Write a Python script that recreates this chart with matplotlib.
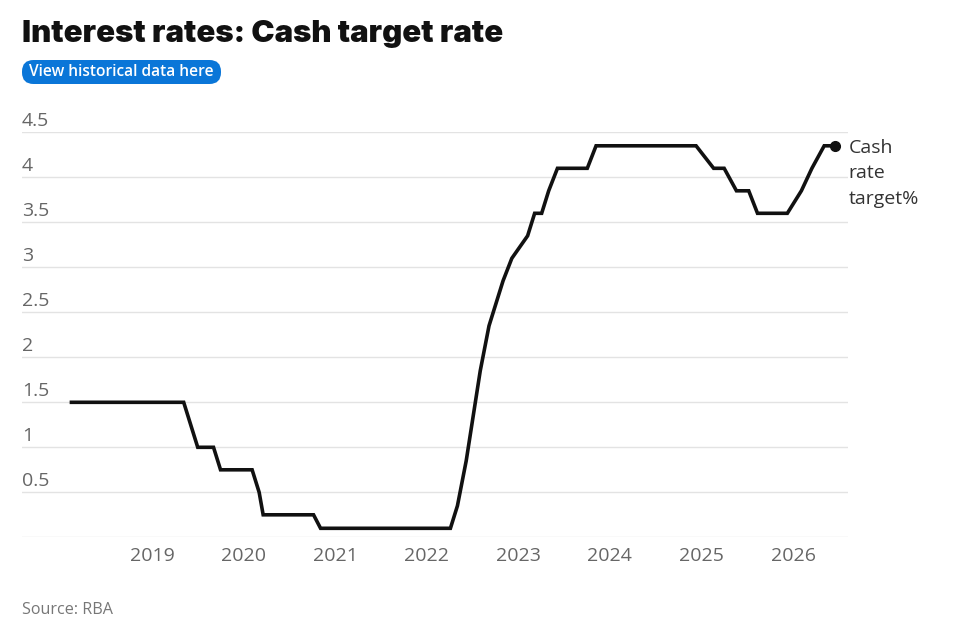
import matplotlib
matplotlib.use("Agg")
import matplotlib.pyplot as plt
import matplotlib.dates as mdates
from matplotlib.patches import FancyBboxPatch
from matplotlib.transforms import blended_transform_factory, ScaledTranslation
import pandas as pd

# ---------------- data ----------------
meeting_dates = [
    # 2018
    "2018-02-06", "2018-03-06", "2018-04-03", "2018-05-01", "2018-06-05", "2018-07-03",
    "2018-08-07", "2018-09-04", "2018-10-02", "2018-11-06", "2018-12-04",
    # 2019
    "2019-02-05", "2019-03-05", "2019-04-02", "2019-05-07", "2019-06-04", "2019-07-02",
    "2019-08-06", "2019-09-03", "2019-10-01", "2019-11-05", "2019-12-03",
    # 2020
    "2020-02-04", "2020-03-03", "2020-03-19", "2020-04-07", "2020-05-05", "2020-06-02",
    "2020-07-07", "2020-08-04", "2020-09-01", "2020-10-06", "2020-11-03", "2020-12-01",
    # 2021
    "2021-02-02", "2021-03-02", "2021-04-06", "2021-05-04", "2021-06-01", "2021-07-06",
    "2021-08-03", "2021-09-07", "2021-10-05", "2021-11-02", "2021-12-07",
    # 2022
    "2022-02-01", "2022-03-01", "2022-04-05", "2022-05-03", "2022-06-07", "2022-07-05",
    "2022-08-02", "2022-09-06", "2022-10-04", "2022-11-01", "2022-12-06",
    # 2023
    "2023-02-07", "2023-03-07", "2023-04-04", "2023-05-02", "2023-06-06", "2023-07-04",
    "2023-08-01", "2023-09-05", "2023-10-03", "2023-11-07", "2023-12-05",
    # 2024
    "2024-02-06", "2024-03-19", "2024-05-07", "2024-06-18", "2024-08-06", "2024-09-24",
    "2024-11-05", "2024-12-10",
    # 2025
    "2025-02-18", "2025-04-01", "2025-05-20", "2025-07-08", "2025-08-12", "2025-09-30",
    "2025-11-04", "2025-12-09",
    # 2026
    "2026-02-03", "2026-03-17", "2026-05-05", "2026-06-16",
]
cash_rate = [
    # 2018
    1.5, 1.5, 1.5, 1.5, 1.5, 1.5, 1.5, 1.5, 1.5, 1.5, 1.5,
    # 2019
    1.5, 1.5, 1.5, 1.5, 1.25, 1.0, 1.0, 1.0, 0.75, 0.75, 0.75,
    # 2020
    0.75, 0.5, 0.25, 0.25, 0.25, 0.25, 0.25, 0.25, 0.25, 0.25, 0.1, 0.1,
    # 2021
    0.1, 0.1, 0.1, 0.1, 0.1, 0.1, 0.1, 0.1, 0.1, 0.1, 0.1,
    # 2022
    0.1, 0.1, 0.1, 0.35, 0.85, 1.35, 1.85, 2.35, 2.6, 2.85, 3.1,
    # 2023
    3.35, 3.6, 3.6, 3.85, 4.1, 4.1, 4.1, 4.1, 4.1, 4.35, 4.35,
    # 2024
    4.35, 4.35, 4.35, 4.35, 4.35, 4.35, 4.35, 4.35,
    # 2025
    4.1, 4.1, 3.85, 3.85, 3.6, 3.6, 3.6, 3.6,
    # 2026
    3.85, 4.1, 4.35, 4.35,
]
y_ticks = [0.5, 1, 1.5, 2, 2.5, 3, 3.5, 4, 4.5]
y_tick_labels = ["0.5", "1", "1.5", "2", "2.5", "3", "3.5", "4", "4.5"]
x_tick_years = [2019, 2020, 2021, 2022, 2023, 2024, 2025, 2026]
series_label_lines = ["Cash", "rate", "target%"]

title = "Interest rates: Cash target rate"
button_text = "View historical data here"
source_text = "Source: RBA"

# ---------------- figure ----------------
W, H, DPI = 957, 642, 100
fig = plt.figure(figsize=(W / DPI, H / DPI), dpi=DPI)
fig.patch.set_facecolor("white")

def fx(px):
    return px / W

def fy(py):
    return 1 - py / H

ax_left, ax_right = 22, 848
ax_top, ax_bottom = 132.3, 537.3
ax = fig.add_axes([fx(ax_left), fy(ax_bottom), (ax_right - ax_left) / W,
                   (ax_bottom - ax_top) / H])
ax.set_facecolor("white")

dates = pd.to_datetime(meeting_dates)
ax.set_xlim(pd.Timestamp("2017-07-31"), pd.Timestamp("2026-08-08"))
ax.set_ylim(0, 4.5)

for s in ax.spines.values():
    s.set_visible(False)
ax.set_yticks([])
ax.tick_params(axis="x", length=0, pad=7, labelsize=14, labelcolor="#666666")
ax.set_xticks([pd.Timestamp(f"{y}-01-01") for y in x_tick_years])
ax.set_xticklabels([str(y) for y in x_tick_years], fontfamily="Open Sans")

# gridlines (including baseline)
for v in [0] + y_ticks:
    ax.axhline(v, color="#e3e3e3", lw=1.0, zorder=1)

# y labels above gridlines, left aligned
trans = blended_transform_factory(ax.transAxes, ax.transData)
off = ScaledTranslation(0, 6 / DPI, fig.dpi_scale_trans)
for v, lab in zip(y_ticks, y_tick_labels):
    ax.text(0, v, lab, transform=trans + off, ha="left", va="baseline",
            fontsize=14, color="#666666", family="Open Sans")

ax.plot(dates, cash_rate, color="#111111", lw=2.6, solid_joinstyle="miter",
        solid_capstyle="butt", zorder=3, clip_on=False)
ax.plot(dates[-1:], cash_rate[-1:], "o", color="#111111", ms=7, zorder=4,
        clip_on=False)

# end label
for i, line in enumerate(series_label_lines):
    ax.annotate(line, xy=(dates[-1], cash_rate[-1]), xycoords="data",
                xytext=(14 * 72 / DPI, (-7.3 - 25.2 * i) * 72 / DPI),
                textcoords="offset points", ha="left", va="baseline",
                fontsize=14, color="#333333", family="Open Sans",
                annotation_clip=False)

# title
fig.text(fx(22), fy(41.7), title, ha="left", va="baseline", fontsize=22.4,
         fontweight="black", family="Inter", color="#111111")

# button
btn = FancyBboxPatch((fx(22), fy(84)), fx(199), (84 - 60) / H,
                     boxstyle="round,pad=0,rounding_size=0.012",
                     transform=fig.transFigure, facecolor="#0a76d8",
                     edgecolor="none", mutation_aspect=W / H)
fig.patches.append(btn)
fig.text(fx(22 + 199 / 2), fy(72.5), button_text, ha="center", va="center",
         fontsize=11.2, fontweight="semibold", family="Open Sans", color="white")

# source
fig.text(fx(22), fy(610), source_text, ha="left", va="center", fontsize=11.6,
         color="#777777", family="Open Sans")

fig.savefig("out.png", dpi=DPI, facecolor="white")
